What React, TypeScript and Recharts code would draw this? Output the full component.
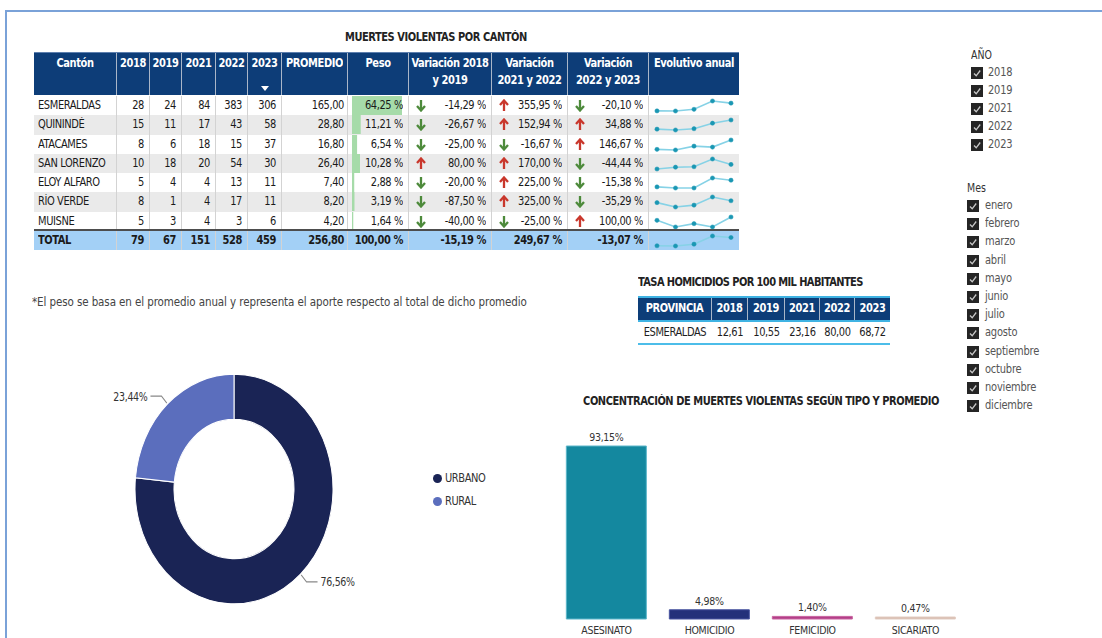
import React from "react"
import {
  BarChart,
  Bar,
  XAxis,
  YAxis,
  Cell,
  LabelList,
  LineChart,
  Line,
  PieChart,
  Pie,
} from "recharts"

const FONT = '"DejaVu Sans Condensed", "DejaVu Sans", sans-serif'

// --- data ---
const cantones = [
  "ESMERALDAS",
  "QUININDÉ",
  "ATACAMES",
  "SAN LORENZO",
  "ELOY ALFARO",
  "RÍO VERDE",
  "MUISNE",
]
const years = ["2018", "2019", "2021", "2022", "2023"]
const v2018 = [28, 15, 8, 10, 5, 8, 5]
const v2019 = [24, 11, 6, 18, 4, 1, 3]
const v2021 = [84, 17, 18, 20, 4, 4, 4]
const v2022 = [383, 43, 15, 54, 13, 17, 3]
const v2023 = [306, 58, 37, 30, 11, 11, 6]
const promedio = [165.0, 28.8, 16.8, 26.4, 7.4, 8.2, 4.2]
const peso = [64.25, 11.21, 6.54, 10.28, 2.88, 3.19, 1.64]
const var1819 = [-14.29, -26.67, -25.0, 80.0, -20.0, -87.5, -40.0]
const var2122 = [355.95, 152.94, -16.67, 170.0, 225.0, 325.0, -25.0]
const var2223 = [-20.1, 34.88, 146.67, -44.44, -15.38, -35.29, 100.0]

const totalYears = [79, 67, 151, 528, 459]
const totalPromedio = 256.8
const totalPeso = 100
const totalVars = [-15.19, 249.67, -13.07]

const tasaYears = ["2018", "2019", "2021", "2022", "2023"]
const tasaEsmeraldas = [12.61, 10.55, 23.16, 80.0, 68.72]

const zonas = ["URBANO", "RURAL"]
const zonaPct = [76.56, 23.44]
const zonaColors = ["#1a2455", "#5b6ebd"]

const tipos = ["ASESINATO", "HOMICIDIO", "FEMICIDIO", "SICARIATO"]
const tipoPct = [93.15, 4.98, 1.4, 0.47]
const tipoColors = ["#14889f", "#24317a", "#b23f88", "#d6b9ab"]
const tipoStroke = ["#5cb6ca", "#4a56a0", "#c9639f", "#e2cdc3"]

const anios = ["2018", "2019", "2021", "2022", "2023"]
const meses = [
  "enero",
  "febrero",
  "marzo",
  "abril",
  "mayo",
  "junio",
  "julio",
  "agosto",
  "septiembre",
  "octubre",
  "noviembre",
  "diciembre",
]

const fmt = (n: number, d = 2) => n.toFixed(d).replace(".", ",")

const HEADER_BG = "#0d3d78"
const colWidths = [83, 33, 32, 34, 32, 34, 66, 61, 83, 76, 81, 90]
const headers = [
  "Cantón",
  "2018",
  "2019",
  "2021",
  "2022",
  "2023",
  "PROMEDIO",
  "Peso",
  "Variación 2018 y 2019",
  "Variación 2021 y 2022",
  "Variación 2022 y 2023",
  "Evolutivo anual",
]
const headerLines: Record<string, string[]> = {
  "Variación 2018 y 2019": ["Variación 2018", "y 2019"],
  "Variación 2021 y 2022": ["Variación", "2021 y 2022"],
  "Variación 2022 y 2023": ["Variación", "2022 y 2023"],
}

const tasaWidths = [74, 36, 37, 35, 35, 35]

const maxPeso = Math.max(...peso)

// the source screenshot is slightly stretched vertically
function T({ children }: { children: React.ReactNode }) {
  return (
    <span style={{ display: "inline-block", transform: "scaleY(1.14)", position: "relative" }}>
      {children}
    </span>
  )
}

function Arrow({ up }: { up: boolean }) {
  const c = up ? "#c9372c" : "#4d8a3b"
  return (
    <svg width={10} height={13} style={{ position: "absolute", left: 7, top: 3 }}>
      {up ? (
        <g stroke={c} strokeWidth={2.3} fill="none">
          <line x1={5} y1={12} x2={5} y2={2} />
          <polyline points="1,6 5,1.5 9,6" />
        </g>
      ) : (
        <g stroke={c} strokeWidth={2.3} fill="none">
          <line x1={5} y1={1} x2={5} y2={11} />
          <polyline points="1,7 5,11.5 9,7" />
        </g>
      )}
    </svg>
  )
}

function Spark({ values }: { values: number[] }) {
  const data = years.map((y, i) => ({ year: y, v: values[i] }))
  return (
    <LineChart
      width={89}
      height={19}
      data={data}
      margin={{ top: 5, right: 7, bottom: 4, left: 8 }}
    >
      <XAxis dataKey="year" hide />
      <YAxis hide domain={["dataMin", "dataMax"]} />
      <Line
        type="linear"
        dataKey="v"
        stroke="#86d2e6"
        strokeWidth={1.6}
        dot={{ r: 2.1, fill: "#1a97b3", stroke: "#1a97b3", strokeWidth: 0.5 }}
        isAnimationActive={false}
      />
    </LineChart>
  )
}

function PesoBar({ value }: { value: number }) {
  return (
    <div style={{ position: "absolute", left: 0, top: 0 }}>
      <BarChart
        width={60}
        height={19}
        layout="vertical"
        data={[{ k: "p", v: value }]}
        margin={{ top: 0, right: 6, bottom: 0, left: 4 }}
        barCategoryGap={0}
      >
        <XAxis type="number" hide domain={[0, maxPeso]} />
        <YAxis type="category" dataKey="k" hide />
        <Bar dataKey="v" fill="#a6dba9" isAnimationActive={false} />
      </BarChart>
    </div>
  )
}

const ROW_TOP = 96
const ROW_H = 19.29

function cellStyle(i: number, extra: React.CSSProperties = {}): React.CSSProperties {
  return {
    position: "relative",
    width: colWidths[i],
    boxSizing: "border-box",
    borderRight: i < colWidths.length - 1 ? "1px solid #d3d3d3" : "none",
    textAlign: "right",
    paddingRight: 5,
    whiteSpace: "nowrap",
    overflow: "hidden",
    ...extra,
  }
}

function VarCell({ i, v, arrow }: { i: number; v: number; arrow: boolean }) {
  return (
    <div style={cellStyle(i)}>
      {arrow && <Arrow up={v > 0} />}
      <T>{fmt(v)} %</T>
    </div>
  )
}

const rowText: React.CSSProperties = {
  fontSize: 11,
  letterSpacing: -0.4,
  color: "#1a1a1a",
}

function BodyRow({ r }: { r: number }) {
  const vals = [v2018[r], v2019[r], v2021[r], v2022[r], v2023[r]]
  return (
    <div
      style={{
        position: "absolute",
        left: 34,
        top: ROW_TOP + r * ROW_H,
        height: ROW_H,
        lineHeight: `${ROW_H}px`,
        display: "flex",
        background: r % 2 === 1 ? "#eaeaea" : "#ffffff",
        ...rowText,
      }}
    >
      <div style={cellStyle(0, { textAlign: "left", paddingLeft: 4, paddingRight: 0 })}>
        <T>{cantones[r]}</T>
      </div>
      {vals.map((v, k) => (
        <div key={k} style={cellStyle(k + 1)}>
          <T>{v}</T>
        </div>
      ))}
      <div style={cellStyle(6, { paddingRight: 3 })}>
        <T>{fmt(promedio[r])}</T>
      </div>
      <div style={cellStyle(7)}>
        <PesoBar value={peso[r]} />
        <T>{fmt(peso[r])} %</T>
      </div>
      <VarCell i={8} v={var1819[r]} arrow />
      <VarCell i={9} v={var2122[r]} arrow />
      <VarCell i={10} v={var2223[r]} arrow />
      <div style={cellStyle(11, { paddingRight: 0 })}>
        <Spark values={vals} />
      </div>
    </div>
  )
}

function TotalRow() {
  return (
    <div
      style={{
        position: "absolute",
        left: 34,
        top: 229,
        height: 19,
        lineHeight: "19px",
        display: "flex",
        background: "#a3d0f6",
        borderTop: "2px solid #4d4d4d",
        ...rowText,
        fontWeight: 700,
      }}
    >
      <div style={cellStyle(0, { textAlign: "left", paddingLeft: 4, paddingRight: 0 })}>
        <T>TOTAL</T>
      </div>
      {totalYears.map((v, k) => (
        <div key={k} style={cellStyle(k + 1)}>
          <T>{v}</T>
        </div>
      ))}
      <div style={cellStyle(6, { paddingRight: 3 })}>
        <T>{fmt(totalPromedio)}</T>
      </div>
      <div style={cellStyle(7)}>
        <T>{fmt(totalPeso)} %</T>
      </div>
      <VarCell i={8} v={totalVars[0]} arrow={false} />
      <VarCell i={9} v={totalVars[1]} arrow={false} />
      <VarCell i={10} v={totalVars[2]} arrow={false} />
      <div style={cellStyle(11, { paddingRight: 0 })}>
        <Spark values={totalYears} />
      </div>
    </div>
  )
}

function HeaderRow() {
  return (
    <div
      style={{
        position: "absolute",
        left: 34,
        top: 52,
        height: 43,
        display: "flex",
        background: HEADER_BG,
        borderTop: "1px solid #5d7fae",
        color: "#fff",
        fontSize: 11,
        letterSpacing: -0.4,
        fontWeight: 700,
        boxSizing: "border-box",
      }}
    >
      {headers.map((h, i) => (
        <div
          key={h}
          style={{
            position: "relative",
            width: colWidths[i],
            boxSizing: "border-box",
            borderRight: i < headers.length - 1 ? "1.5px solid #a9b6c8" : "none",
            textAlign: "center",
            lineHeight: "17px",
            paddingTop: 2,
            whiteSpace: "nowrap",
          }}
        >
          {(headerLines[h] || [h]).map((l) => (
            <div key={l}>
              <T>{l}</T>
            </div>
          ))}
          {h === "2023" && (
            <svg
              width={8}
              height={5}
              style={{ position: "absolute", left: 13, top: 33 }}
            >
              <polygon points="0,0 8,0 4,5" fill="#fff" />
            </svg>
          )}
        </div>
      ))}
    </div>
  )
}

function CheckBox({ x, y }: { x: number; y: number }) {
  return (
    <svg
      width={12}
      height={12}
      style={{ position: "absolute", left: x, top: y - 6 }}
    >
      <rect x={0} y={0} width={12} height={12} fill="#252525" />
      <polyline
        points="3,6.5 5.2,8.8 9.2,3.5"
        stroke="#c9c9c9"
        strokeWidth={1.3}
        fill="none"
      />
    </svg>
  )
}

function Slicer({
  title,
  items,
  x,
  titleY,
  firstY,
  step,
  textX,
}: {
  title: string
  items: string[]
  x: number
  titleY: number
  firstY: number
  step: number
  textX: number
}) {
  return (
    <>
      <div
        style={{
          position: "absolute",
          left: x,
          top: titleY - 8,
          fontSize: 10.5,
          color: "#333",
          lineHeight: "16px",
        }}
      >
        <T>{title}</T>
      </div>
      {items.map((it, i) => (
        <React.Fragment key={it}>
          <CheckBox x={x} y={firstY + i * step} />
          <div
            style={{
              position: "absolute",
              left: textX,
              top: firstY + i * step - 8,
              fontSize: 11,
              letterSpacing: -0.2,
              color: "#555",
              lineHeight: "16px",
            }}
          >
            <T>{it}</T>
          </div>
        </React.Fragment>
      ))}
    </>
  )
}

const RADIAN = Math.PI / 180

function renderPieLabel(props: any) {
  const { cx, cy, midAngle, outerRadius, value } = props
  const cos = Math.cos(-midAngle * RADIAN)
  const sin = Math.sin(-midAngle * RADIAN)
  const sx = cx + (outerRadius + 1) * cos
  const sy = cy + (outerRadius + 1) * sin
  const mx = cx + (outerRadius + 9) * cos
  const my = cy + (outerRadius + 9) * sin
  const ex = mx + (cos >= 0 ? 1 : -1) * 11
  const ey = my
  return (
    <g>
      <path
        d={`M${sx},${sy}L${mx},${my}L${ex},${ey}`}
        stroke="#888"
        fill="none"
        strokeWidth={1}
      />
      <text
        x={ex + (cos >= 0 ? 3 : -3)}
        y={ey}
        dy={4}
        textAnchor={cos >= 0 ? "start" : "end"}
        fontSize={10.5}
        letterSpacing={-0.3}
        fill="#333"
        fontFamily={FONT}
      >
        {fmt(value)}%
      </text>
    </g>
  )
}

const titleStyle: React.CSSProperties = {
  position: "absolute",
  fontSize: 11,
  fontWeight: 700,
  letterSpacing: -0.45,
  color: "#222",
  whiteSpace: "nowrap",
}

export default function App() {
  const zonaData = zonas.map((z, i) => ({ name: z, value: zonaPct[i] }))
  const tipoData = tipos.map((t, i) => ({ name: t, value: tipoPct[i] }))

  return (
    <div
      style={{
        position: "absolute",
        left: 0,
        top: 0,
        width: 1102,
        height: 638,
        overflow: "hidden",
        background: "#fff",
        fontFamily: FONT,
      }}
    >
      {/* frame */}
      <div
        style={{
          position: "absolute",
          left: 5,
          top: 10,
          width: 1200,
          height: 700,
          border: "2px solid #7aa2d8",
          boxSizing: "border-box",
        }}
      />

      {/* main table */}
      <div style={{ ...titleStyle, left: 345, top: 31 }}>
        <T>MUERTES VIOLENTAS POR CANTÓN</T>
      </div>
      <HeaderRow />
      {cantones.map((_, r) => (
        <BodyRow key={r} r={r} />
      ))}
      <TotalRow />

      <div
        style={{
          position: "absolute",
          left: 32,
          top: 294,
          fontSize: 11.5,
          letterSpacing: -0.1,
          color: "#444",
          whiteSpace: "nowrap",
        }}
      >
        <T>
          *El peso se basa en el promedio anual y representa el aporte respecto
          al total de dicho promedio
        </T>
      </div>

      {/* tasa table */}
      <div style={{ ...titleStyle, left: 638, top: 276, letterSpacing: -0.6 }}>
        <T>TASA HOMICIDIOS POR 100 MIL HABITANTES</T>
      </div>
      <div
        style={{
          position: "absolute",
          left: 638,
          top: 296,
          display: "flex",
          height: 26,
          background: HEADER_BG,
          borderTop: "2px solid #3fb3e3",
          borderBottom: "2px solid #3fb3e3",
          boxSizing: "border-box",
          color: "#fff",
          fontSize: 11,
          letterSpacing: -0.4,
          fontWeight: 700,
          lineHeight: "22px",
        }}
      >
        {["PROVINCIA", ...tasaYears].map((h, i) => (
          <div
            key={h}
            style={{
              width: tasaWidths[i],
              boxSizing: "border-box",
              borderRight: i < 5 ? "1.5px solid #a9b6c8" : "none",
              textAlign: "center",
            }}
          >
            <T>{h}</T>
          </div>
        ))}
      </div>
      <div
        style={{
          position: "absolute",
          left: 638,
          top: 323,
          display: "flex",
          height: 22,
          borderBottom: "2px solid #4cbde9",
          boxSizing: "border-box",
          color: "#1e1e1e",
          fontSize: 11,
          letterSpacing: -0.4,
          lineHeight: "20px",
        }}
      >
        {["ESMERALDAS", ...tasaEsmeraldas.map((v) => fmt(v))].map((h, i) => (
          <div key={i} style={{ width: tasaWidths[i], textAlign: "center" }}>
            <T>{h}</T>
          </div>
        ))}
      </div>

      {/* donut */}
      <div
        style={{
          position: "absolute",
          left: 100,
          top: 389,
          width: 280,
          height: 200,
          transform: "scaleY(1.16)",
          transformOrigin: "50% 50%",
        }}
      >
        <PieChart
          width={280}
          height={200}
          margin={{ top: 0, right: 0, bottom: 0, left: 0 }}
        >
          <Pie
            data={zonaData}
            dataKey="value"
            nameKey="name"
            cx={134}
            cy={100}
            innerRadius={60}
            outerRadius={99}
            startAngle={90}
            endAngle={-270}
            stroke="#fff"
            strokeWidth={1}
            labelLine={false}
            label={renderPieLabel}
            isAnimationActive={false}
          >
            {zonaData.map((_, i) => (
              <Cell key={`z-${i}`} fill={zonaColors[i]} />
            ))}
          </Pie>
        </PieChart>
      </div>
      {zonas.map((z, i) => (
        <React.Fragment key={z}>
          <div
            style={{
              position: "absolute",
              left: 433,
              top: 474 + i * 23,
              width: 9,
              height: 9,
              borderRadius: "50%",
              background: zonaColors[i],
            }}
          />
          <div
            style={{
              position: "absolute",
              left: 445,
              top: 471 + i * 23,
              fontSize: 11,
              letterSpacing: -0.4,
              color: "#333",
              lineHeight: "16px",
            }}
          >
            <T>{z}</T>
          </div>
        </React.Fragment>
      ))}

      {/* bar chart */}
      <div
        style={{
          ...titleStyle,
          left: 555,
          top: 395,
          width: 412,
          textAlign: "center",
        }}
      >
        <T>CONCENTRACIÓN DE MUERTES VIOLENTAS SEGÚN TIPO Y PROMEDIO</T>
      </div>
      <div style={{ position: "absolute", left: 555, top: 420 }}>
        <BarChart
          width={412}
          height={218}
          data={tipoData}
          margin={{ top: 26, right: 0, bottom: 0, left: 0 }}
          barCategoryGap="11%"
        >
          <XAxis
            dataKey="name"
            axisLine={false}
            tickLine={false}
            height={19}
            interval={0}
            tick={{ fontSize: 10.5, fill: "#333", fontFamily: FONT, letterSpacing: -0.3 }}
          />
          <YAxis hide domain={[0, "dataMax"]} />
          <Bar dataKey="value" minPointSize={2} isAnimationActive={false}>
            {tipoData.map((_, i) => (
              <Cell
                key={`t-${i}`}
                fill={tipoColors[i]}
                stroke={tipoStroke[i]}
                strokeWidth={1}
              />
            ))}
            <LabelList
              dataKey="value"
              position="top"
              formatter={(v: any) => `${fmt(Number(v))}%`}
              style={{ fontSize: 10.5, fill: "#333", fontFamily: FONT, letterSpacing: -0.3 }}
            />
          </Bar>
        </BarChart>
      </div>

      {/* slicers */}
      <Slicer
        title="AÑO"
        items={anios}
        x={971}
        titleY={54}
        firstY={73}
        step={18}
        textX={988}
      />
      <Slicer
        title="Mes"
        items={meses}
        x={967}
        titleY={187}
        firstY={206}
        step={18.2}
        textX={985}
      />
    </div>
  )
}
